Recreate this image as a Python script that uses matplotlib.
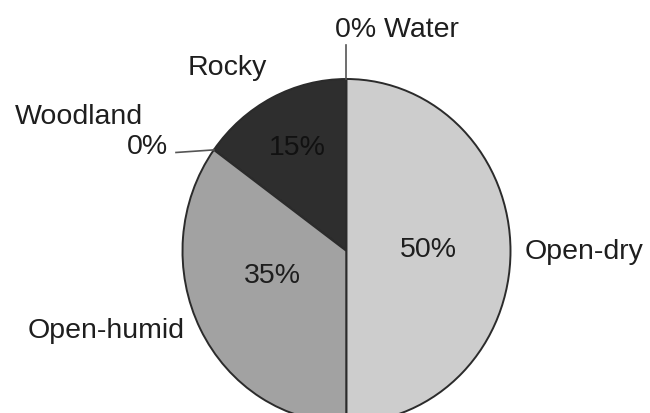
import numpy as np
import matplotlib.pyplot as plt

# land cover shares (percent), counter-clockwise from 12 o'clock
labels = ['Water', 'Rocky', 'Woodland', 'Open-humid', 'Open-dry']
shares = [0, 15, 0, 35, 50]
colors = ['#ffffff', '#2e2e2e', '#ffffff', '#a2a2a2', '#cdcdcd']

W, H = 650, 413
cx, cy = 346.5, 251      # pie centre in pixels
rx, ry = 164, 172        # pie is a touch taller than wide

plt.rcParams['font.family'] = ['Liberation Sans', 'DejaVu Sans']

fig = plt.figure(figsize=(W / 100, H / 100), dpi=100)
ax = fig.add_axes([0, 0, 1, 1])


def px(x, y):
    # pixel position -> data units
    return (x - cx) / rx, (cy - y) / ry


wedges, _ = ax.pie(shares, colors=colors, startangle=90, counterclock=True,
                   radius=1, center=(0, 0), frame=True,
                   wedgeprops=dict(edgecolor='#2b2b2b', linewidth=1.4))
ax.set_xlim(-cx / rx, (W - cx) / rx)
ax.set_ylim(-(H - cy) / ry, cy / ry)
ax.set_aspect('auto')
ax.axis('off')

# angle of each wedge's start
starts = 90 + 360 * np.concatenate([[0], np.cumsum(shares)[:-1]]) / sum(shares)

tc = '#1e1e1e'
fs = 20.5

# leader for Water (zero wedge at the top)
a = np.deg2rad(starts[0])
x0, y0 = np.cos(a), np.sin(a)
ax.plot([x0, x0], [y0, px(0, 45)[1]], color='#555555', lw=1.2)
ax.text(*px(335, 30), '0% Water', fontsize=fs, color=tc, ha='left', va='center')

# leader for Woodland (zero wedge between Rocky and Open-humid)
a = np.deg2rad(starts[2])
x1, y1 = np.cos(a), np.sin(a)
ax.plot([x1, px(176, 0)[0]], [y1, y1 - 0.015], color='#555555', lw=1.2)
ax.text(*px(143, 117), 'Woodland', fontsize=fs, color=tc, ha='right', va='center')
ax.text(*px(168, 147), '0%', fontsize=fs, color=tc, ha='right', va='center')

ax.text(*px(227, 68), 'Rocky', fontsize=fs, color=tc, ha='center', va='center')
ax.text(*px(525, 252), 'Open-dry', fontsize=fs, color=tc, ha='left', va='center')
ax.text(*px(106, 331), 'Open-humid', fontsize=fs, color=tc, ha='center', va='center')

# percentages inside the slices
ax.text(*px(297, 148), f'{shares[1]}%', fontsize=fs, color='#111111', ha='center', va='center')
ax.text(*px(272, 276), f'{shares[3]}%', fontsize=fs, color=tc, ha='center', va='center')
ax.text(*px(428, 250), f'{shares[4]}%', fontsize=fs, color=tc, ha='center', va='center')

fig.savefig('out.png', dpi=100)
